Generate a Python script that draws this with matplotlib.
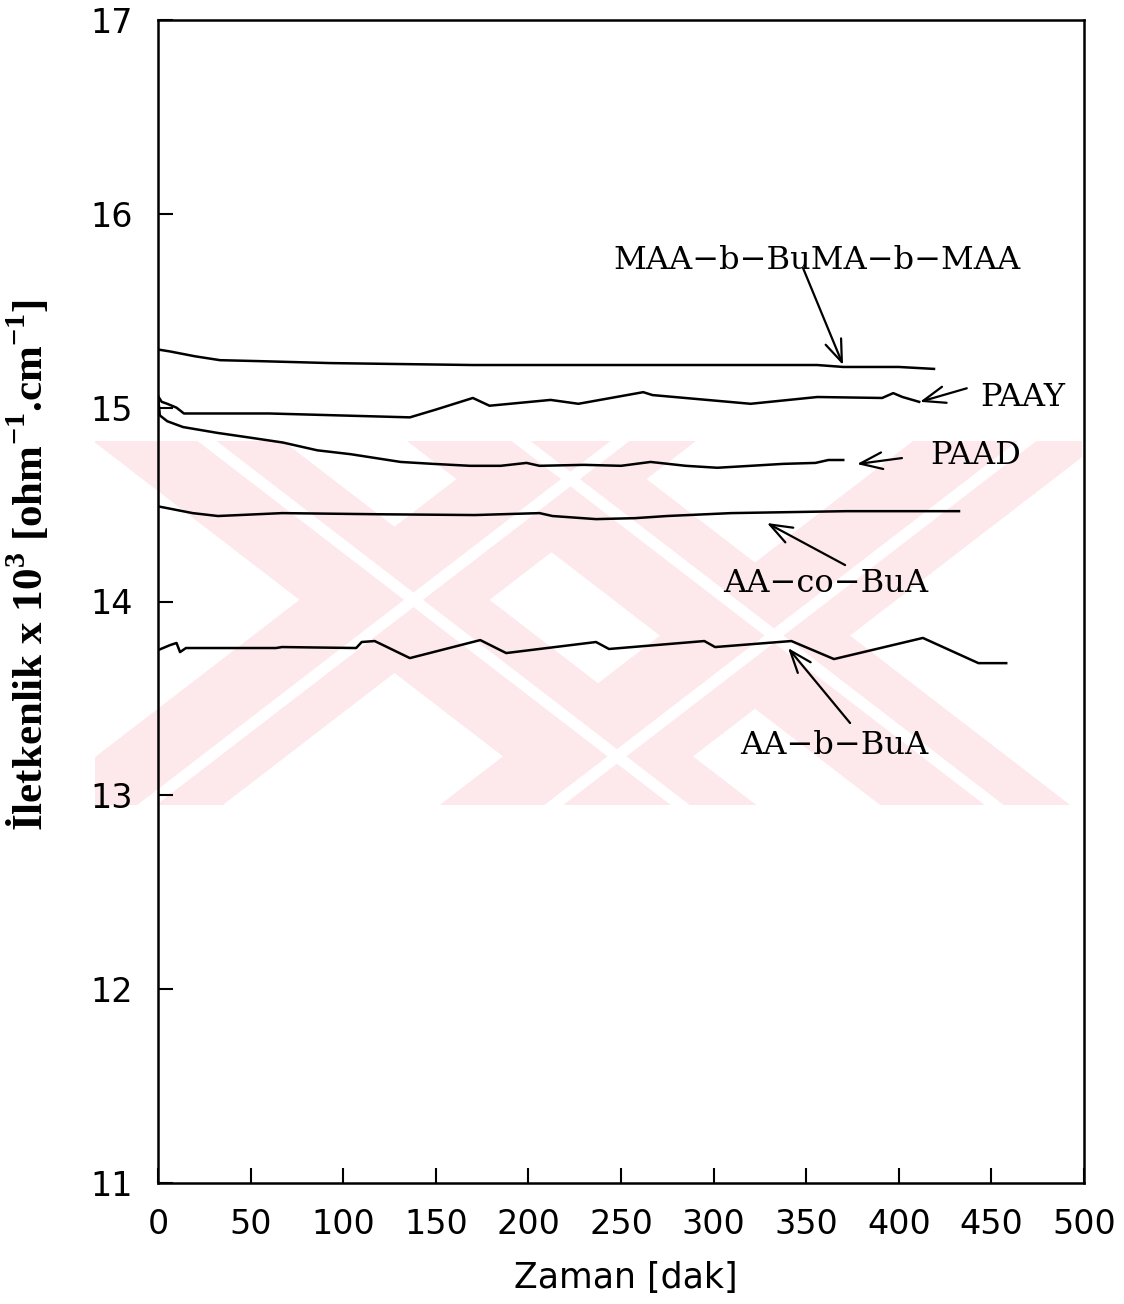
import matplotlib.pyplot as plt
import matplotlib.transforms as mtransforms
from matplotlib.patches import Polygon, Rectangle

# ── Data (time in dak, conductivity x 10^3) ───────────────────────────
maa_t = [0, 6.5, 20, 33.5, 55, 93, 131, 170, 212, 280, 356, 370, 400, 419]
maa_k = [15.30, 15.29, 15.265, 15.245, 15.24, 15.23, 15.225, 15.22, 15.22,
         15.22, 15.22, 15.21, 15.21, 15.20]

paay_t = [0, 2, 5, 10, 14, 60, 136, 150, 170, 179, 212, 227, 262, 267,
          320, 356, 391, 397, 402, 411]
paay_k = [15.06, 15.03, 15.02, 15.00, 14.97, 14.97, 14.95, 14.99, 15.05,
          15.01, 15.04, 15.02, 15.08, 15.065, 15.02, 15.055, 15.05, 15.075,
          15.055, 15.03]

paad_t = [0, 1, 5, 13.5, 32, 50, 67.5, 86, 104, 131, 148.5, 168.5, 185,
          199, 206, 230, 250, 266, 285, 302, 320, 337.5, 355, 362, 370]
paad_k = [15.06, 14.96, 14.93, 14.90, 14.87, 14.845, 14.82, 14.78, 14.76,
          14.72, 14.71, 14.70, 14.70, 14.715, 14.70, 14.705, 14.70, 14.72,
          14.70, 14.69, 14.70, 14.71, 14.715, 14.73, 14.73]

aaco_t = [0.5, 18.7, 32.4, 67, 120, 171, 206, 213, 236.5, 257.6, 274.8,
          309.4, 371.5, 432.5]
aaco_k = [14.49, 14.456, 14.441, 14.456, 14.45, 14.446, 14.456, 14.441,
          14.425, 14.43, 14.441, 14.456, 14.466, 14.466]

aab_t = [0, 6.5, 10, 11.9, 15.1, 63.7, 67, 107, 110, 117, 136, 174, 188,
         236.5, 243.5, 295, 300.8, 342, 365, 413, 443, 458]
aab_k = [13.749, 13.775, 13.786, 13.739, 13.760, 13.760, 13.765, 13.760,
         13.791, 13.796, 13.708, 13.801, 13.734, 13.791, 13.755, 13.796,
         13.765, 13.796, 13.703, 13.812, 13.682, 13.682]

x_ticks = list(range(0, 501, 50))
y_ticks = [11, 12, 13, 14, 15, 16, 17]

# label text, text position, arrow tip, arrow tail (data coords)
labels = [
    ("MAA−b−BuMA−b−MAA", (356, 15.76), (369.9, 15.22), (348.3, 15.72), "center"),
    ("PAAY", (443.8, 15.05), (411.4, 15.03), (436.7, 15.10), "left"),
    ("PAAD", (416.8, 14.755), (377.4, 14.709), (401.7, 14.74), "left"),
    ("AA−co−BuA", (360.7, 14.095), (328.8, 14.405), (371.0, 14.188), "center"),
    ("AA−b−BuA", (365.0, 13.259), (340.2, 13.76), (373.7, 13.373), "center"),
]

W, H = 1124, 1304
fig = plt.figure(figsize=(W / 100, H / 100), dpi=100)
ax = fig.add_axes([158 / W, 1 - 1183 / H, 926 / W, 1163 / H])
ax.set_facecolor("none")

# ── faint pink watermark behind the plot (figure pixel coords) ───────
px = mtransforms.Affine2D().scale(1 / W, -1 / H).translate(0, 1) + fig.transFigure
wm_top, wm_bot = 441, 805
clip = Rectangle((95, wm_top), 987, wm_bot - wm_top, transform=px,
                 facecolor="none", edgecolor="none")
wm_color = "#fde8ec"
slope = 1.3
shift = slope * (wm_bot - wm_top)
# (left edge at top, right edge at top, direction)
bands = [(93, 283, 1), (506, 696, -1), (407, 597, 1), (913, 1103, -1)]
for a, b, d in bands:
    for lo, hi, col, z in [(a, b, wm_color, -3),
                           (a + 0.55 * (b - a), a + 0.65 * (b - a), "white", -2)]:
        poly = Polygon([(lo, wm_top), (hi, wm_top), (hi + d * shift, wm_bot),
                        (lo + d * shift, wm_bot)], closed=True, transform=px,
                       facecolor=col, edgecolor="none", zorder=z)
        fig.add_artist(poly)
        poly.set_clip_path(clip)

# ── curves ───────────────────────────────────────────────────────────
for t, k in [(maa_t, maa_k), (paay_t, paay_k), (paad_t, paad_k),
             (aaco_t, aaco_k), (aab_t, aab_k)]:
    ax.plot(t, k, color="black", linewidth=1.8, zorder=3)

for text, pos, tip, tail, ha in labels:
    ax.annotate("", xy=tip, xytext=tail,
                arrowprops=dict(arrowstyle="->,head_length=0.8,head_width=0.3",
                                color="black", lw=1.6, mutation_scale=20,
                                shrinkA=0, shrinkB=0))
    ax.text(pos[0], pos[1], text, ha=ha, va="center", fontsize=23,
            family="DejaVu Serif", color="black")

ax.set_xlim(0, 500)
ax.set_ylim(11, 17)
ax.set_xticks(x_ticks)
ax.set_yticks(y_ticks)
ax.tick_params(direction="in", length=11, width=1.5, labelsize=24, pad=18,
               top=False, right=False)
for lab in ax.get_xticklabels() + ax.get_yticklabels():
    lab.set_family("DejaVu Sans")
for sp in ax.spines.values():
    sp.set_linewidth(1.8)

ax.text(0.505, -0.0817, "Zaman [dak]", transform=ax.transAxes, ha="center",
        va="center", fontsize=25, family="DejaVu Sans")

plt.rcParams["mathtext.fontset"] = "custom"
plt.rcParams["mathtext.rm"] = "Liberation Serif:bold"
plt.rcParams["mathtext.bf"] = "Liberation Serif:bold"
ax.text(-0.140, 0.531, r"İletkenlik x 10$^{\mathbf{3}}$ [ohm$^{\mathbf{-1}}$.cm$^{\mathbf{-1}}$]",
        transform=ax.transAxes, rotation=90, ha="center", va="center",
        fontsize=31, family="Liberation Serif", fontweight="bold")

fig.savefig("out.png", dpi=100)
